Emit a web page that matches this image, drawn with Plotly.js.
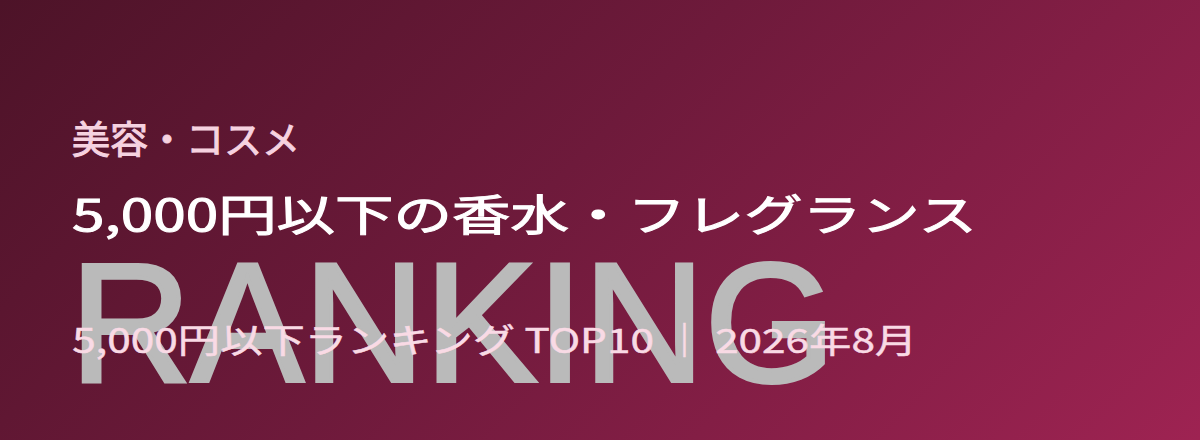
<!DOCTYPE html>
<html>
<head>
<meta charset="utf-8">
<script src="https://cdn.plot.ly/plotly-3.0.1.min.js"></script>
<style>
  html, body { margin: 0; padding: 0; }
  #banner {
    width: 1200px; height: 440px;
    background: linear-gradient(135deg, #4d1328 0%, #6e1a3b 45%, #9e2352 100%);
  }
  /* heavier strokes than the regular font gives */
  .annotation[data-index="0"] .annotation-text { stroke: #bababa; stroke-width: 4px; }
  .annotation[data-index="1"] .annotation-text { stroke: #f6d2e0; stroke-width: 1px; }
  /* the headline and subline are drawn wider than the font's natural width */
  .annotation[data-index="2"] .annotation-text {
    stroke: #ffffff; stroke-width: 1px;
    transform-box: fill-box; transform-origin: 0 50%; transform: scaleX(1.36);
  }
  .annotation[data-index="3"] .annotation-text {
    stroke: #f9dae5; stroke-width: 0.5px;
    transform-box: fill-box; transform-origin: 0 50%; transform: scaleX(1.245);
  }
</style>
</head>
<body>
<div id="banner"></div>
<script>
// text content of the banner
const category = ['美容・コスメ']
const headline = ['5,000円以下の香水・フレグランス']
const watermark = ['RANKING']
const subline = ['5,000円以下ランキング TOP10 ｜ 2026年8月']

const W = 1200
const H = 440
const px = x => x / W
const py = y => 1 - y / H

const cjk = '"Noto Sans CJK JP", "Noto Sans", sans-serif'

const annotations = [
  {
    text: watermark[0], x: px(68), y: py(323), xanchor: 'left', yanchor: 'middle',
    font: { family: '"Liberation Sans", Arial, sans-serif', size: 168, color: '#bababa' }
  },
  {
    text: category[0], x: px(70), y: py(137), xanchor: 'left', yanchor: 'middle',
    font: { family: cjk, size: 38, color: '#f6d2e0' }
  },
  {
    text: headline[0], x: px(70), y: py(212), xanchor: 'left', yanchor: 'middle',
    font: { family: cjk, size: 43, color: '#ffffff' }
  },
  {
    text: subline[0], x: px(70), y: py(338), xanchor: 'left', yanchor: 'middle',
    font: { family: cjk, size: 34, color: '#f9dae5' }
  }
].map(a => Object.assign({ xref: 'paper', yref: 'paper', showarrow: false }, a))

const layout = {
  width: W,
  height: H,
  margin: { l: 0, r: 0, t: 0, b: 0 },
  paper_bgcolor: 'rgba(0,0,0,0)',
  plot_bgcolor: 'rgba(0,0,0,0)',
  xaxis: { visible: false, range: [0, 1], fixedrange: true },
  yaxis: { visible: false, range: [0, 1], fixedrange: true },
  showlegend: false,
  annotations: annotations
}

Plotly.newPlot('banner', [], layout, { displayModeBar: false, staticPlot: true })
</script>
</body>
</html>
